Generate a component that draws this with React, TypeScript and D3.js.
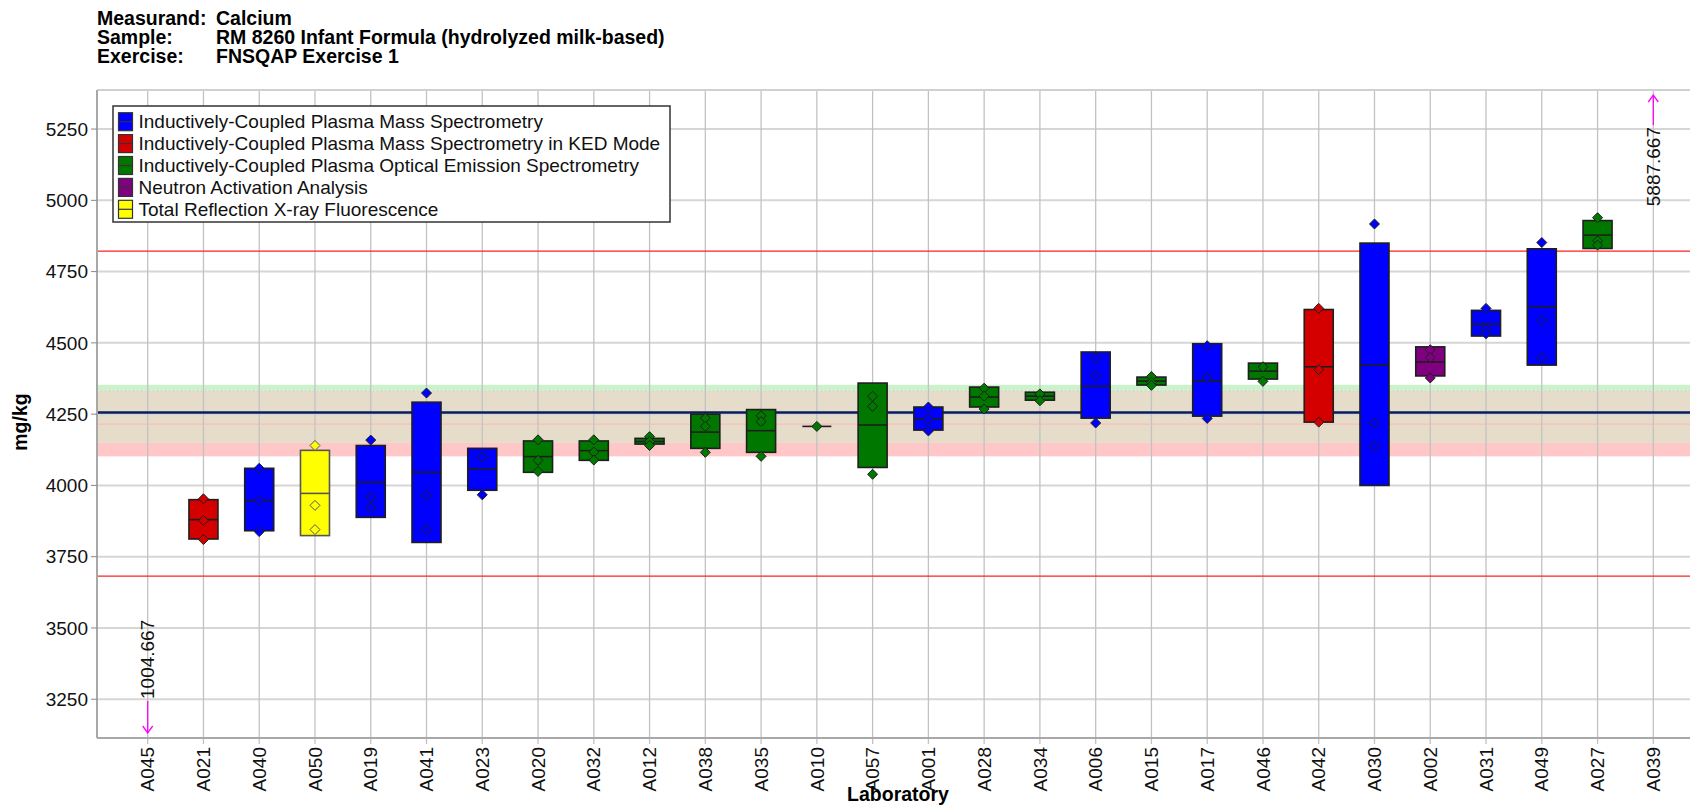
import React from 'react';
import * as d3 from 'd3';

const titleKeys = ['Measurand:', 'Sample:', 'Exercise:'];
const titleValues = ['Calcium', 'RM 8260 Infant Formula (hydrolyzed milk-based)', 'FNSQAP Exercise 1'];

const methods = [
  'Inductively-Coupled Plasma Mass Spectrometry',
  'Inductively-Coupled Plasma Mass Spectrometry in KED Mode',
  'Inductively-Coupled Plasma Optical Emission Spectrometry',
  'Neutron Activation Analysis',
  'Total Reflection X-ray Fluorescence',
];
const methodColors = ['#0000ff', '#d40000', '#007800', '#800080', '#ffff00'];

const labs = ['A045', 'A021', 'A040', 'A050', 'A019', 'A041', 'A023', 'A020', 'A032', 'A012', 'A038', 'A035', 'A010', 'A057',
  'A001', 'A028', 'A034', 'A006', 'A015', 'A017', 'A046', 'A042', 'A030', 'A002', 'A031', 'A049', 'A027', 'A039'];
// index into methods (-1 = off scale, no box)
const labMethod = [-1, 1, 0, 4, 0, 0, 0, 2, 2, 2, 2, 2, 2, 2, 0, 2, 2, 0, 2, 0, 2, 1, 0, 3, 0, 0, 2, -1];
const boxLow = [NaN, 3812, 3841, 3824, 3888, 3800, 3983, 4046, 4088, 4145, 4130, 4116, 4207, 4063,
  4194, 4275, 4299, 4236, 4352, 4243, 4373, 4222, 4000, 4384, 4524, 4422, 4831, NaN];
const boxHigh = [NaN, 3950, 4060, 4123, 4140, 4292, 4130, 4156, 4156, 4165, 4250, 4266, 4207, 4359,
  4275, 4345, 4327, 4468, 4380, 4497, 4429, 4617, 4850, 4486, 4614, 4830, 4929, NaN];
const boxMedian = [NaN, 3880, 3947, 3972, 4011, 4046, 4057, 4101, 4122, 4154, 4187, 4192, 4207, 4212,
  4233, 4310, 4313, 4348, 4366, 4366, 4401, 4416, 4423, 4433, 4566, 4627, 4878, NaN];
const labPoints = [
  [], [3953, 3877, 3810], [4060, 3947, 3838], [4140, 3930, 3845], [4159, 3958, 3921], [4324, 3965, 3845],
  [4100, 3967], [4160, 4088, 4049], [4160, 4117, 4089], [4171, 4154, 4140], [4236, 4207, 4116],
  [4244, 4224, 4102], [4207], [4313, 4277, 4039], [4275, 4233, 4191], [4341, 4313, 4268], [4321, 4297],
  [4447, 4385, 4219], [4382, 4361, 4351], [4490, 4377, 4235], [4416, 4365], [4621, 4406, 4222],
  [4917, 4219, 4137], [4476, 4449, 4377], [4621, 4548, 4532], [4852, 4579, 4448], [4939, 4858, 4843], [],
];
const offScaleValue = [1004.667, NaN, NaN, NaN, NaN, NaN, NaN, NaN, NaN, NaN, NaN, NaN, NaN, NaN,
  NaN, NaN, NaN, NaN, NaN, NaN, NaN, NaN, NaN, NaN, NaN, NaN, NaN, 5887.667];

const yTicks = [3250, 3500, 3750, 4000, 4250, 4500, 4750, 5000, 5250];
const yDomain = [3114, 5387];
const centerValue = 4256;
const upperLimit = 4822;
const lowerLimit = 3682;
const innerLine = 4215;
const greenBand = [4332, 4353];
const tanBand = [4149, 4332];
const pinkBand = [4102, 4149];

export default function App() {
  const W = 1690, H = 807;
  const left = 97, top = 90, bottom = 738, right = 1704;
  const font = "'Liberation Sans', Arial, Helvetica, sans-serif";
  const x = d3.scalePoint<string>().domain(labs).range([left, right]).padding(0.909);
  const y = d3.scaleLinear().domain(yDomain).range([bottom, top]);
  const bw = 29;
  const diamond = 'M0,-5L5,0L0,5L-5,0Z';

  const band = (b: number[], fill: string) => (
    <rect x={left} y={y(b[1])} width={right - left} height={y(b[0]) - y(b[1])} fill={fill} />
  );

  return (
    <svg width={W} height={H} style={{ position: 'absolute', left: 0, top: 0, fontFamily: font }}>
      <rect x={0} y={0} width={W} height={H} fill="#fff" />
      {/* title */}
      {titleKeys.map((k, i) => (
        <g key={k} fontWeight="bold" fontSize={19.5} fill="#000">
          <text x={97} y={25 + i * 19.2}>{k}</text>
          <text x={216} y={25 + i * 19.2}>{titleValues[i]}</text>
        </g>
      ))}
      {/* bands */}
      {band(greenBand, '#ccf2cc')}
      {band(tanBand, '#e5ddca')}
      {band(pinkBand, '#ffc7c7')}
      <line x1={left} x2={right} y1={y(greenBand[0])} y2={y(greenBand[0])} stroke="#c8c8c8" strokeDasharray="1,3" />
      {/* grid */}
      {yTicks.map(t => (
        <line key={'h' + t} x1={left} x2={right} y1={y(t)} y2={y(t)} stroke="#d6d6d6" strokeWidth={2} />
      ))}
      {labs.map(l => (
        <line key={'v' + l} x1={x(l)} x2={x(l)} y1={top} y2={bottom + 6} stroke="#c2c2c2" strokeWidth={1.3} />
      ))}
      <line x1={left} x2={right} y1={top} y2={top} stroke="#d0d0d0" strokeWidth={2} />
      {/* reference lines */}
      <line x1={left} x2={right} y1={y(innerLine)} y2={y(innerLine)} stroke="#ffb4b4" strokeWidth={1} />
      <line x1={left} x2={right} y1={y(upperLimit)} y2={y(upperLimit)} stroke="#ff2020" strokeWidth={1.3} />
      <line x1={left} x2={right} y1={y(lowerLimit)} y2={y(lowerLimit)} stroke="#ff2020" strokeWidth={1.3} />
      <line x1={left} x2={right} y1={y(centerValue)} y2={y(centerValue)} stroke="#0a1d5c" strokeWidth={2.4} />
      {/* axes */}
      <line x1={left} x2={left} y1={top} y2={bottom} stroke="#a8a8a8" strokeWidth={2} />
      <line x1={left} x2={right} y1={bottom} y2={bottom} stroke="#a8a8a8" strokeWidth={2} />
      {yTicks.map(t => (
        <g key={'yt' + t}>
          <line x1={left - 6} x2={left} y1={y(t)} y2={y(t)} stroke="#888" strokeWidth={1} />
          <text x={88} y={y(t)} dy="0.35em" textAnchor="end" fontSize={19} fill="#111">{t}</text>
        </g>
      ))}
      {labs.map(l => (
        <text key={'xt' + l} transform={`translate(${x(l)},747) rotate(-90)`} dy="0.35em" textAnchor="end" fontSize={19} fill="#111">{l}</text>
      ))}
      <text transform="translate(27,422) rotate(-90)" textAnchor="middle" fontSize={19.5} fontWeight="bold">mg/kg</text>
      <text x={898} y={801} textAnchor="middle" fontSize={19.5} fontWeight="bold">Laboratory</text>
      {/* boxes */}
      {labs.map((l, i) => {
        const m = labMethod[i];
        if (m < 0) return null;
        const cx = x(l) as number;
        const col = methodColors[m];
        const stroke = m === 4 ? '#555' : '#1e1e1e';
        const h = y(boxLow[i]) - y(boxHigh[i]);
        return (
          <g key={'b' + l}>
            {h > 0.5 && (
              <rect x={cx - bw / 2} y={y(boxHigh[i])} width={bw} height={h} fill={col} stroke={stroke} strokeWidth={1.6} />
            )}
            <line x1={cx - bw / 2} x2={cx + bw / 2} y1={y(boxMedian[i])} y2={y(boxMedian[i])} stroke={stroke} strokeWidth={1.6} />
            {labPoints[i].map((p, j) => (
              <path key={j} d={diamond} transform={`translate(${cx},${y(p)})`} fill={col} stroke={stroke} strokeWidth={1} />
            ))}
          </g>
        );
      })}
      {/* off-scale markers */}
      {labs.map((l, i) => {
        const v = offScaleValue[i];
        if (isNaN(v)) return null;
        const cx = x(l) as number;
        const low = v < yDomain[0];
        const tip = low ? bottom - 5 : top + 5;
        const tail = low ? bottom - 37 : top + 35;
        const d = low ? -7 : 7;
        return (
          <g key={'o' + l}>
            <line x1={cx} x2={cx} y1={tail} y2={tip} stroke="#ff00ff" strokeWidth={1.3} />
            <path d={`M${cx - 5},${tip + d}L${cx},${tip}L${cx + 5},${tip + d}`} fill="none" stroke="#ff00ff" strokeWidth={1.3} />
            <text transform={`translate(${cx},${low ? tail - 2 : tail + 2}) rotate(-90)`} dy="0.35em"
              textAnchor={low ? 'start' : 'end'} fontSize={19} fill="#111">{v.toFixed(3)}</text>
          </g>
        );
      })}
      {/* legend */}
      <rect x={113} y={106} width={557} height={116} fill="#fff" stroke="#333" strokeWidth={1.5} />
      {methods.map((m, i) => {
        const cy = 121.7 + i * 21.9;
        return (
          <g key={m}>
            <rect x={118.5} y={cy - 9} width={14} height={18} fill={methodColors[i]} stroke="#333" strokeWidth={1.2} />
            <line x1={118.5} x2={132.5} y1={cy} y2={cy} stroke="#333" strokeWidth={1.2} />
            <text x={138.5} y={cy} dy="0.35em" fontSize={19} fill="#111">{m}</text>
          </g>
        );
      })}
    </svg>
  );
}
